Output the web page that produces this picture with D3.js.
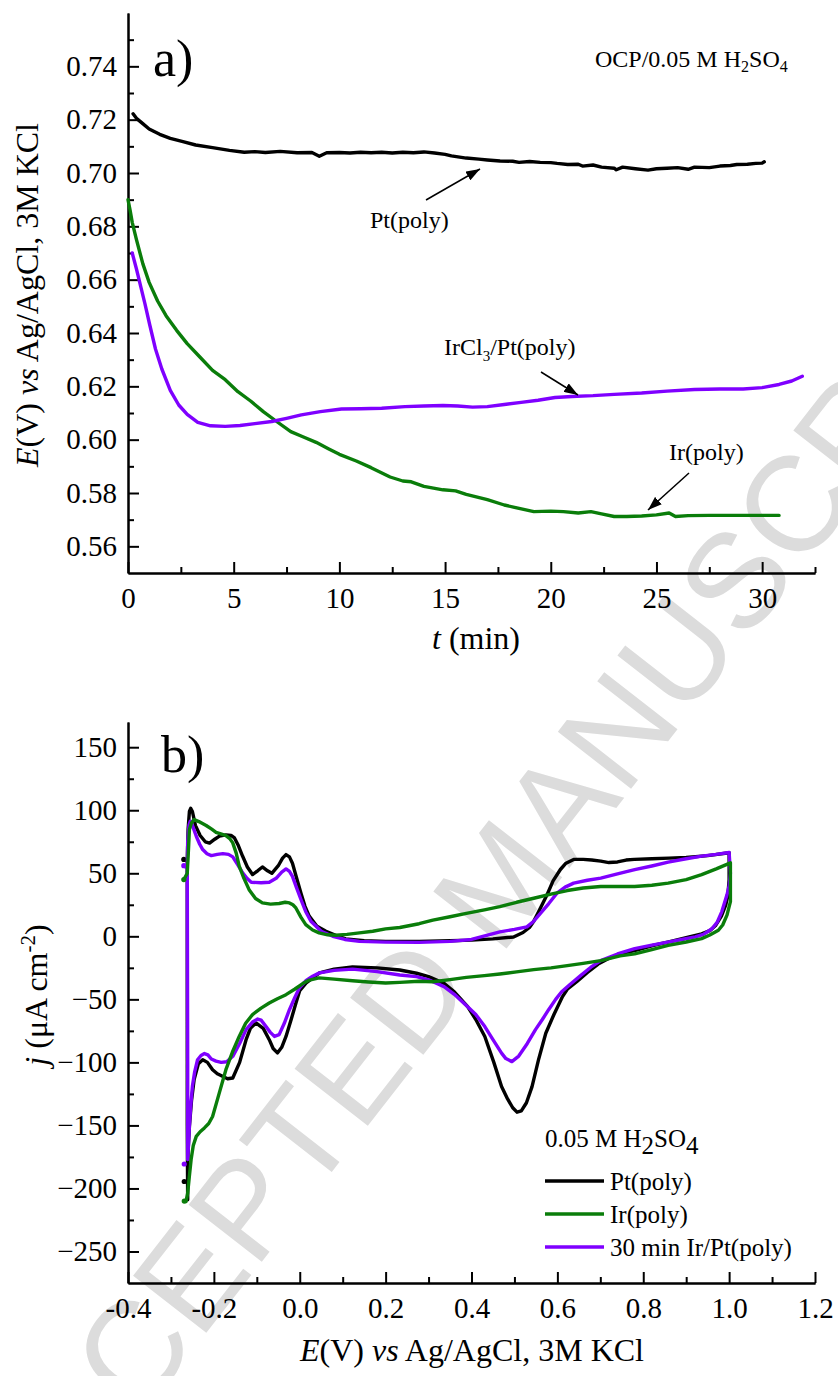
<!DOCTYPE html>
<html><head><meta charset="utf-8">
<script src="https://cdn.jsdelivr.net/npm/d3@7"></script>
<style>
html,body{margin:0;padding:0;background:#fff;}
svg{display:block;}
text{font-family:"Liberation Serif","Times New Roman",serif;fill:#000;}
</style></head>
<body>
<svg id="chart" width="838" height="1376"></svg>
<script>
// ---------- Panel a) OCP data (t in min, E in V) ----------
const ptOCP = [[0.24,0.7222],[0.4,0.7205],[0.7,0.7185],[1.0,0.7165],[1.5,0.7145],[2.0,0.7130],[2.6,0.7118],[3.2,0.7105],[4.0,0.7095],[4.8,0.7085],[5.5,0.7078],[6.0,0.7080],[6.5,0.7077],[7.2,0.7081],[8.0,0.7076],[8.7,0.7077],[9.05,0.7063],[9.4,0.7076],[10.0,0.7077],[10.5,0.7075],[11.0,0.7078],[11.5,0.7076],[12.0,0.7078],[12.5,0.7075],[13.0,0.7078],[13.5,0.7076],[14.0,0.7079],[14.5,0.7075],[15.0,0.7070],[15.3,0.7064],[16.0,0.7056],[16.6,0.7052],[17.0,0.7049],[17.6,0.7045],[18.2,0.7044],[18.5,0.7040],[19.0,0.7043],[19.5,0.7040],[20.0,0.7039],[20.3,0.7036],[20.8,0.7032],[21.3,0.7033],[21.5,0.7026],[22.0,0.7030],[22.4,0.7022],[23.0,0.7018],[23.1,0.7012],[23.4,0.7022],[24.0,0.7016],[24.6,0.7011],[25.0,0.7016],[25.5,0.7018],[26.0,0.7020],[26.5,0.7014],[26.8,0.7022],[27.5,0.7020],[28.0,0.7026],[28.5,0.7028],[28.8,0.7032],[29.3,0.7033],[29.7,0.7036],[30.0,0.7037],[30.1,0.7042]];
const irOCP = [[0,0.690],[0.1,0.686],[0.2,0.6815],[0.4,0.675],[0.7,0.666],[1.0,0.659],[1.4,0.652],[1.8,0.6465],[2.3,0.641],[2.8,0.636],[3.4,0.631],[4.0,0.626],[4.6,0.6225],[5.2,0.618],[5.8,0.6145],[6.4,0.6105],[7.0,0.607],[7.7,0.603],[8.3,0.6010],[8.9,0.5990],[9.5,0.5965],[10.0,0.5945],[10.8,0.5920],[11.5,0.5895],[12.4,0.5860],[13.0,0.5845],[13.4,0.5842],[14.0,0.5825],[14.9,0.5812],[15.5,0.5808],[16.0,0.5795],[17.0,0.5775],[17.8,0.5755],[18.5,0.5742],[19.2,0.5730],[20.0,0.5732],[20.6,0.5730],[21.3,0.5725],[21.9,0.5730],[22.4,0.5722],[23.0,0.5712],[23.6,0.5712],[24.3,0.5714],[25.0,0.5718],[25.6,0.5725],[25.9,0.5712],[26.5,0.5715],[27.5,0.5716],[28.5,0.5716],[29.5,0.5716],[30.8,0.5716]];
const irclOCP = [[0.2,0.6700],[0.4,0.6640],[0.6,0.6575],[0.8,0.6510],[1.03,0.6430],[1.3,0.6340],[1.6,0.6265],[2.0,0.6185],[2.4,0.6130],[2.8,0.6095],[3.3,0.6065],[3.9,0.6052],[4.6,0.6050],[5.3,0.6053],[6.0,0.6060],[6.8,0.6068],[7.5,0.6080],[8.2,0.6093],[9.1,0.6105],[10.1,0.6115],[11.0,0.6116],[12.0,0.6118],[13.1,0.6124],[14.0,0.6126],[14.9,0.6128],[15.6,0.6126],[16.3,0.6122],[17.0,0.6124],[17.8,0.6132],[18.6,0.6140],[19.4,0.6148],[20.2,0.6158],[21.0,0.6162],[22.0,0.6165],[23.0,0.6170],[24.3,0.6175],[25.5,0.6182],[26.8,0.6188],[28.0,0.6190],[29.1,0.6190],[30.0,0.6195],[30.8,0.6207],[31.4,0.6220],[31.9,0.6238]];
const aTicksX = [0,5,10,15,20,25,30];
const aTicksXMinor = [2.5,7.5,12.5,17.5,22.5,27.5,32.5];
const aTicksY = [0.56,0.58,0.60,0.62,0.64,0.66,0.68,0.70,0.72,0.74];
const aTicksYMinor = [0.57,0.59,0.61,0.63,0.65,0.67,0.69,0.71,0.73,0.75];

// ---------- Panel b) CV data (E in V, j in uA cm-2) ----------
const ptCV = [[-0.270,61],[-0.262,60],[-0.260,85],[-0.257,99],[-0.254,101.5],[-0.250,99],[-0.243,88],[-0.232,80],[-0.220,75],[-0.210,74],[-0.198,77],[-0.187,79.5],[-0.172,80.5],[-0.160,80],[-0.152,78],[-0.143,72],[-0.133,63.5],[-0.122,55],[-0.110,49],[-0.098,52],[-0.087,55],[-0.075,52],[-0.065,50],[-0.050,56],[-0.040,62],[-0.032,64.8],[-0.024,63],[-0.017,58],[-0.008,47],[0.003,34],[0.012,24],[0.022,16],[0.040,8],[0.061,4],[0.085,0.5],[0.107,-2],[0.150,-3.5],[0.200,-4],[0.278,-4],[0.35,-3.5],[0.40,-3],[0.45,-2],[0.498,-0.5],[0.520,3],[0.535,7],[0.545,12],[0.560,22],[0.576,33],[0.590,44],[0.607,53],[0.620,58],[0.638,61],[0.660,61],[0.680,60.5],[0.701,59.6],[0.720,58.5],[0.740,59],[0.760,60.5],[0.779,61],[0.82,61.5],[0.86,62],[0.90,62.5],[0.95,64],[1.000,66.3],[1.000,45],[0.997,32],[0.992,24.8],[0.982,16],[0.969,8.8],[0.955,4.5],[0.936,2],[0.90,-1],[0.857,-4.6],[0.82,-7.5],[0.78,-11.3],[0.745,-14],[0.717,-18],[0.695,-22],[0.670,-28.6],[0.645,-36],[0.623,-42],[0.612,-47.8],[0.592,-62],[0.573,-76.9],[0.556,-98],[0.541,-119.2],[0.528,-132],[0.516,-138.5],[0.506,-139.5],[0.496,-136],[0.484,-129],[0.470,-119.2],[0.452,-100],[0.431,-79.5],[0.410,-66],[0.391,-55.8],[0.36,-44],[0.336,-37.3],[0.30,-32],[0.272,-29.3],[0.233,-26.7],[0.18,-25],[0.123,-24.3],[0.08,-26],[0.046,-29],[0.015,-37],[0.0,-43],[-0.009,-53],[-0.020,-66],[-0.032,-79.4],[-0.042,-88],[-0.052,-92.5],[-0.062,-89],[-0.071,-82],[-0.085,-73],[-0.102,-68.7],[-0.115,-73],[-0.125,-82],[-0.140,-100],[-0.156,-112.4],[-0.168,-113],[-0.180,-111],[-0.192,-109],[-0.203,-105.8],[-0.215,-100],[-0.226,-97.9],[-0.236,-101],[-0.246,-113.7],[-0.252,-130],[-0.257,-150.8],[-0.260,-170],[-0.261,-182.5],[-0.261,-209],[-0.262,-150],[-0.262,60]];
const mixCV = [[-0.270,56],[-0.262,54],[-0.261,75],[-0.258,88],[-0.255,91.3],[-0.250,88],[-0.241,79.4],[-0.233,73],[-0.226,68.8],[-0.216,65.5],[-0.206,64],[-0.192,65],[-0.179,65.6],[-0.166,65],[-0.156,63],[-0.145,57],[-0.133,50.3],[-0.123,46],[-0.113,42.9],[-0.090,42.5],[-0.071,42.9],[-0.055,46],[-0.042,51],[-0.032,53.5],[-0.024,51.5],[-0.017,47.6],[-0.008,39],[0.003,29],[0.014,19.5],[0.026,11.9],[0.050,4],[0.077,0],[0.105,-2.5],[0.139,-4],[0.20,-4.6],[0.278,-4.8],[0.35,-4],[0.40,-2.5],[0.466,3.5],[0.500,5.5],[0.529,7.5],[0.545,12],[0.560,18],[0.580,26],[0.599,34.2],[0.618,39],[0.638,42.2],[0.670,44.5],[0.701,46.2],[0.740,49.5],[0.780,52.9],[0.820,55.8],[0.858,58.8],[0.900,61.5],[0.936,63.6],[0.970,65],[1.000,66.5],[1.003,50],[1.000,40],[0.995,32.9],[0.983,19.6],[0.972,11],[0.960,6],[0.940,1.5],[0.921,-0.5],[0.89,-2.5],[0.857,-4.6],[0.82,-7],[0.780,-9.8],[0.740,-14],[0.701,-19.3],[0.678,-24.5],[0.654,-31.2],[0.630,-38],[0.610,-44],[0.596,-50],[0.580,-58],[0.565,-66],[0.549,-74],[0.530,-85],[0.510,-95],[0.494,-99.4],[0.480,-97],[0.470,-92.7],[0.450,-82],[0.431,-71.6],[0.410,-62],[0.391,-55.8],[0.36,-46],[0.336,-39.9],[0.30,-34.5],[0.272,-32],[0.233,-30.7],[0.18,-28],[0.123,-26],[0.080,-27],[0.046,-29],[0.030,-31.7],[0.015,-35],[-0.001,-41],[-0.012,-49],[-0.024,-58.2],[-0.036,-69],[-0.048,-78],[-0.059,-79.4],[-0.069,-76],[-0.079,-71.4],[-0.090,-66.5],[-0.098,-65.6],[-0.110,-68],[-0.125,-74],[-0.140,-85],[-0.156,-95.2],[-0.170,-99.5],[-0.183,-100],[-0.195,-99],[-0.206,-97.3],[-0.214,-94],[-0.222,-93],[-0.230,-94.5],[-0.238,-97.9],[-0.245,-108],[-0.250,-119],[-0.254,-135],[-0.257,-150.8],[-0.259,-165],[-0.261,-177],[-0.261,-100],[-0.262,54]];
const irCV = [[-0.270,45],[-0.262,50],[-0.259,70],[-0.257,84.7],[-0.252,90],[-0.246,92.6],[-0.235,91],[-0.218,87.9],[-0.205,85],[-0.195,82.5],[-0.182,81],[-0.172,79.9],[-0.163,77.5],[-0.156,74.1],[-0.148,66],[-0.141,55.6],[-0.130,46],[-0.118,37],[-0.103,30],[-0.087,26.5],[-0.068,25.5],[-0.048,26],[-0.034,27],[-0.024,26.5],[-0.016,25],[-0.009,22.5],[0.003,15],[0.014,9.3],[0.030,5],[0.045,2.7],[0.065,1.2],[0.084,0.8],[0.110,1.5],[0.139,2.7],[0.170,4],[0.200,5.9],[0.233,7],[0.278,10],[0.310,12.8],[0.350,15.5],[0.388,18.2],[0.430,21],[0.466,23.5],[0.505,27],[0.545,30.2],[0.585,33.5],[0.623,36.3],[0.660,38.3],[0.701,39.5],[0.740,39.5],[0.780,39.5],[0.820,40.5],[0.858,42.2],[0.900,45],[0.936,49],[0.970,53.5],[1.003,58.3],[1.003,40],[1.003,27.5],[0.995,16.8],[0.985,9],[0.975,4.8],[0.955,1],[0.936,-1.8],[0.90,-4.5],[0.858,-7.2],[0.82,-10.5],[0.780,-13.9],[0.746,-15.5],[0.701,-19.3],[0.660,-21.5],[0.623,-23.3],[0.585,-25],[0.545,-26.4],[0.505,-28.2],[0.466,-29.9],[0.430,-31.2],[0.388,-32.6],[0.350,-34.4],[0.310,-36],[0.278,-35.7],[0.233,-36.5],[0.200,-37],[0.160,-36.2],[0.123,-35.2],[0.080,-34],[0.045,-33],[0.020,-35],[0.007,-37.5],[-0.012,-42],[-0.032,-46.3],[-0.052,-49.5],[-0.071,-52.9],[-0.090,-57],[-0.110,-62.1],[-0.126,-69],[-0.141,-79.4],[-0.157,-92],[-0.172,-105.8],[-0.188,-125],[-0.203,-142.9],[-0.212,-148.5],[-0.222,-152],[-0.232,-155],[-0.241,-158.7],[-0.248,-166],[-0.253,-177],[-0.257,-190],[-0.261,-203.7],[-0.265,-210.4],[-0.269,-210]];
const ptDots = [[-0.270,61],[-0.269,-194.5]];
const mixDots = [[-0.270,56],[-0.269,-180.6]];
const irDots = [[-0.270,45],[-0.269,-210]];
const bTicksX = [-0.4,-0.2,0.0,0.2,0.4,0.6,0.8,1.0,1.2];
const bTickLabelsX = ["-0.4","-0.2","0.0","0.2","0.4","0.6","0.8","1.0","1.2"];
const bTicksXMinor = [-0.3,-0.1,0.1,0.3,0.5,0.7,0.9,1.1];
const bTicksY = [-250,-200,-150,-100,-50,0,50,100,150];
const bTicksYMinor = [-225,-175,-125,-75,-25,25,75,125];
const legendNames = ["Pt(poly)","Ir(poly)","30 min Ir/Pt(poly)"];
const colors = {pt:"#000000", ir:"#0a7d0a", mix:"#7f00ff"};

const svg = d3.select("#chart");
const FONT = '"Liberation Serif","Times New Roman",serif';
const TICK_FS = 29;

// watermark (behind everything)
svg.append("text")
  .attr("transform","translate(24,1566) rotate(-52)")
  .style("font-family",'"Liberation Sans",Arial,sans-serif')
  .style("font-size","135px").style("fill","#dcdcdc")
  .text("ACCEPTED MANUSCRIPT");

// arrow marker
svg.append("defs").append("marker").attr("id","arr")
  .attr("markerUnits","userSpaceOnUse").attr("markerWidth",16).attr("markerHeight",10)
  .attr("refX",14).attr("refY",5).attr("orient","auto")
  .append("path").attr("d","M0,0 L14,5 L0,10 Z").attr("fill","#000");

function styleAxis(g, fs){
  g.select(".domain").attr("stroke","#000").attr("stroke-width",2);
  g.selectAll(".tick line").attr("stroke","#000").attr("stroke-width",2);
  g.selectAll(".tick text").style("font-family",FONT).style("font-size",fs+"px").attr("fill","#000");
}
function axes(x, y, tx, txMinor, ty, tyMinor, fmtX, fmtY){
  const x0 = x.range()[0], y0 = y.range()[0];
  const gx = svg.append("g").attr("transform",`translate(0,${y0})`)
    .call(d3.axisBottom(x).tickValues(tx).tickFormat(fmtX).tickSizeInner(-11).tickSizeOuter(0).tickPadding(14));
  styleAxis(gx, TICK_FS);
  const gxm = svg.append("g").attr("transform",`translate(0,${y0})`)
    .call(d3.axisBottom(x).tickValues(txMinor).tickFormat("").tickSizeInner(-6).tickSizeOuter(0));
  styleAxis(gxm, TICK_FS);
  const gy = svg.append("g").attr("transform",`translate(${x0},0)`)
    .call(d3.axisLeft(y).tickValues(ty).tickFormat(fmtY).tickSizeInner(-11).tickSizeOuter(0).tickPadding(11));
  styleAxis(gy, TICK_FS);
  const gym = svg.append("g").attr("transform",`translate(${x0},0)`)
    .call(d3.axisLeft(y).tickValues(tyMinor).tickFormat("").tickSizeInner(-6).tickSizeOuter(0));
  styleAxis(gym, TICK_FS);
}

// ---------------- Panel a ----------------
const xa = d3.scaleLinear().domain([0,32.5]).range([128,815]);
const ya = d3.scaleLinear().domain([0.55,0.76]).range([573,13]);
axes(xa, ya, aTicksX, aTicksXMinor, aTicksY, aTicksYMinor, d3.format("d"), d3.format(".2f"));
const lineA = d3.line().x(d=>xa(d[0])).y(d=>ya(d[1]));
[[ptOCP,colors.pt],[irOCP,colors.ir],[irclOCP,colors.mix]].forEach(([d,c])=>{
  svg.append("path").datum(d).attr("d",lineA).attr("fill","none").attr("stroke",c)
    .attr("stroke-width",3.4).attr("stroke-linejoin","round").attr("stroke-linecap","round");
});
svg.append("text").attr("x",153).attr("y",76).style("font-size","52px").text("a)");
const ocp = svg.append("text").attr("x",595).attr("y",67).style("font-size","24px");
ocp.append("tspan").text("OCP/0.05 M H");
ocp.append("tspan").attr("dy",5).style("font-size","16px").text("2");
ocp.append("tspan").attr("dy",-5).text("SO");
ocp.append("tspan").attr("dy",5).style("font-size","16px").text("4");
// annotations
svg.append("text").attr("x",370).attr("y",228).style("font-size","24px").text("Pt(poly)");
svg.append("line").attr("x1",426).attr("y1",200).attr("x2",480).attr("y2",169)
  .attr("stroke","#000").attr("stroke-width",1.5).attr("marker-end","url(#arr)");
const ircl = svg.append("text").attr("x",444).attr("y",355).style("font-size","24px");
ircl.append("tspan").text("IrCl");
ircl.append("tspan").attr("dy",6).style("font-size","15px").text("3");
ircl.append("tspan").attr("dy",-6).text("/Pt(poly)");
svg.append("line").attr("x1",541).attr("y1",372).attr("x2",578).attr("y2",395)
  .attr("stroke","#000").attr("stroke-width",1.5).attr("marker-end","url(#arr)");
svg.append("text").attr("x",669).attr("y",460).style("font-size","24px").text("Ir(poly)");
svg.append("line").attr("x1",689).attr("y1",473).attr("x2",648).attr("y2",510)
  .attr("stroke","#000").attr("stroke-width",1.5).attr("marker-end","url(#arr)");
// axis titles
const ta = svg.append("text").attr("x",476).attr("y",649).attr("text-anchor","middle").style("font-size","32px");
ta.append("tspan").style("font-style","italic").text("t");
ta.append("tspan").text(" (min)");
const ea = svg.append("text").attr("transform","translate(38,295) rotate(-90)").attr("text-anchor","middle").style("font-size","32px");
ea.append("tspan").style("font-style","italic").text("E");
ea.append("tspan").text("(V) ");
ea.append("tspan").style("font-style","italic").text("vs");
ea.append("tspan").text(" Ag/AgCl, 3M KCl");

// ---------------- Panel b ----------------
const xb = d3.scaleLinear().domain([-0.4,1.2]).range([128,815]);
const yb = d3.scaleLinear().domain([-275,170]).range([1283,722]);
axes(xb, yb, bTicksX, bTicksXMinor, bTicksY, bTicksYMinor, (d,i)=>bTickLabelsX[i], d3.format("d"));
const lineB = d3.line().x(d=>xb(d[0])).y(d=>yb(d[1])).curve(d3.curveLinear);
[[ptCV,ptDots,colors.pt],[mixCV,mixDots,colors.mix],[irCV,irDots,colors.ir]].forEach(([d,dots,c])=>{
  svg.append("path").datum(d).attr("d",lineB).attr("fill","none").attr("stroke",c)
    .attr("stroke-width",3.4).attr("stroke-linejoin","round").attr("stroke-linecap","round");
  svg.selectAll(null).data(dots).enter().append("circle")
    .attr("cx",p=>xb(p[0])).attr("cy",p=>yb(p[1])).attr("r",2.6).attr("fill",c);
});
svg.append("text").attr("x",161).attr("y",772).style("font-size","52px").text("b)");
// legend
const lt = svg.append("text").attr("x",545).attr("y",1147).style("font-size","25px");
lt.append("tspan").text("0.05 M H");
lt.append("tspan").attr("dy",7).text("2");
lt.append("tspan").attr("dy",-7).text("SO");
lt.append("tspan").attr("dy",7).text("4");
[colors.pt, colors.ir, colors.mix].forEach((c,i)=>{
  const yy = 1181 + i*33;
  svg.append("line").attr("x1",545).attr("x2",604).attr("y1",yy).attr("y2",yy)
    .attr("stroke",c).attr("stroke-width",3.6);
  svg.append("text").attr("x",610).attr("y",yy).attr("dy","0.35em").style("font-size","25px").text(legendNames[i]);
});
// titles
const eb = svg.append("text").attr("x",472).attr("y",1361).attr("text-anchor","middle").style("font-size","32px");
eb.append("tspan").style("font-style","italic").text("E");
eb.append("tspan").text("(V) ");
eb.append("tspan").style("font-style","italic").text("vs");
eb.append("tspan").text(" Ag/AgCl, 3M KCl");
const jb = svg.append("text").attr("transform","translate(47,995) rotate(-90)").attr("text-anchor","middle").style("font-size","32px");
jb.append("tspan").style("font-style","italic").text("j");
jb.append("tspan").text(" (μA cm");
jb.append("tspan").attr("dy",-12).style("font-size","21px").text("-2");
jb.append("tspan").attr("dy",12).text(")");
</script>
</body></html>
